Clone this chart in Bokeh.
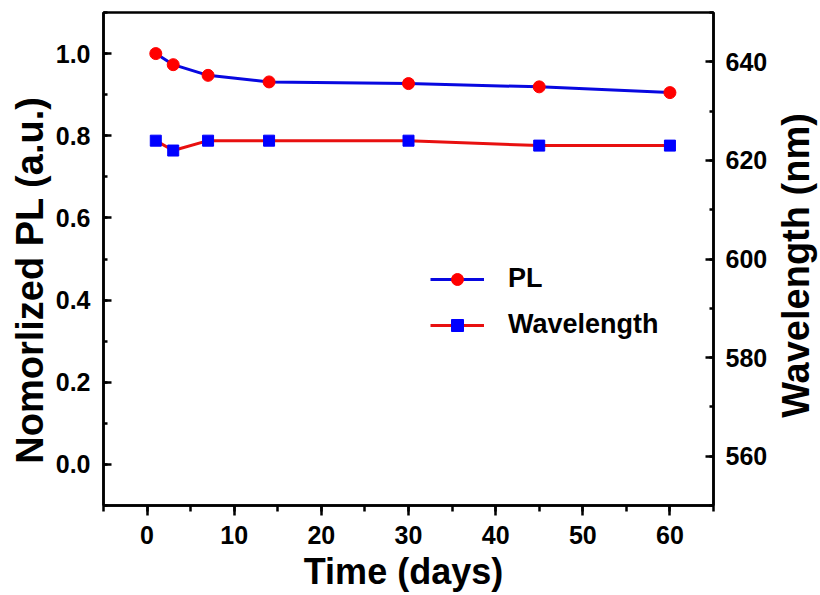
from bokeh.plotting import figure
from bokeh.models import (Range1d, LinearAxis, SingleIntervalTicker, Legend, LegendItem,
                          PrintfTickFormatter, Label)
from bokeh.embed import file_html
from bokeh.resources import INLINE

days = [1, 3, 7, 14, 30, 45, 60]
pl = [1.0, 0.973, 0.947, 0.931, 0.927, 0.919, 0.905]
wavelength = [624, 622, 624, 624, 624, 623, 623]

NB = "\u00a0"
x_title = "Time (days)" + NB
y_title = "Nomorlized PL (a.u.)" + NB * 4
y2_title = "Wavelength (nm)"

BLUE = "#0808e0"
RED = "#e81010"
FONT = "Liberation Sans"

p = figure(width=820, height=595, output_backend="svg", toolbar_location=None,
           x_range=Range1d(-5, 65), y_range=Range1d(-0.1, 1.1),
           min_border_left=103, min_border_right=107, min_border_top=12, min_border_bottom=90)
p.extra_y_ranges = {"wl": Range1d(550, 650)}
p.xgrid.visible = False
p.ygrid.visible = False
p.outline_line_color = "black"
p.outline_line_width = 2.5
p.background_fill_color = "white"
p.border_fill_color = "white"

l1 = p.line(days, pl, line_color=BLUE, line_width=3)
m1 = p.scatter(days, pl, marker="circle", size=12, fill_color="#ff0000", line_color="#ff0000")
l2 = p.line(days, wavelength, line_color=RED, line_width=3, y_range_name="wl")
m2 = p.scatter(days, wavelength, marker="square", size=11, fill_color="#0000ff", line_color="#0000ff", y_range_name="wl")

ax_r = LinearAxis(y_range_name="wl")
p.add_layout(ax_r, "right")

p.xaxis.ticker = SingleIntervalTicker(interval=10, num_minor_ticks=2)
p.yaxis[0].ticker = SingleIntervalTicker(interval=0.2, num_minor_ticks=2)
p.yaxis[0].formatter = PrintfTickFormatter(format="%.1f")
ax_r.ticker = SingleIntervalTicker(interval=20, num_minor_ticks=2)

p.xaxis[0].axis_label = x_title
p.yaxis[0].axis_label = y_title

for ax in [p.xaxis[0], p.yaxis[0], ax_r]:
    ax.axis_line_width = 2.5
    ax.major_tick_line_width = 2.5
    ax.minor_tick_line_width = 2.5
    ax.major_label_text_font = FONT
    ax.major_label_text_font_style = "bold"
    ax.major_label_text_font_size = "25px"
    ax.major_label_text_color = "black"
    ax.axis_label_text_font = FONT
    ax.axis_label_text_font_style = "bold"
    ax.axis_label_text_font_size = "38px"
    ax.axis_label_text_color = "black"

# x axis: ticks outward
xa = p.xaxis[0]
xa.major_tick_out = 10
xa.major_tick_in = 0
xa.minor_tick_out = 6
xa.minor_tick_in = 0
xa.major_label_standoff = 10
xa.axis_label_standoff = 4
xa.axis_label_text_font_size = "36px"

# y axes: ticks inward
for ax in [p.yaxis[0], ax_r]:
    ax.major_tick_out = 0
    ax.major_tick_in = 8
    ax.minor_tick_out = 0
    ax.minor_tick_in = 4
p.yaxis[0].major_label_standoff = 13
p.yaxis[0].axis_label_standoff = 2
ax_r.major_label_standoff = 12

# right-hand title, reading bottom to top, in its own side panel (not clipped)
p.add_layout(Label(x=25, y=240, x_units="screen", y_units="screen", text=y2_title,
                   text_font=FONT, text_font_style="bold", text_font_size="38px",
                   text_color="black", text_align="center", text_baseline="middle",
                   angle=90, angle_units="deg"), "right")

legend = Legend(items=[LegendItem(label="PL", renderers=[l1, m1]),
                       LegendItem(label="Wavelength", renderers=[l2, m2])],
                location=(327, 165), border_line_color=None, background_fill_alpha=0,
                glyph_width=54, glyph_height=30, label_height=30, spacing=15,
                padding=0, margin=0, label_standoff=24,
                label_text_font=FONT, label_text_font_style="bold", label_text_font_size="27px",
                label_text_color="black")
p.add_layout(legend)

open("out.html", "w").write(file_html(p, INLINE))
